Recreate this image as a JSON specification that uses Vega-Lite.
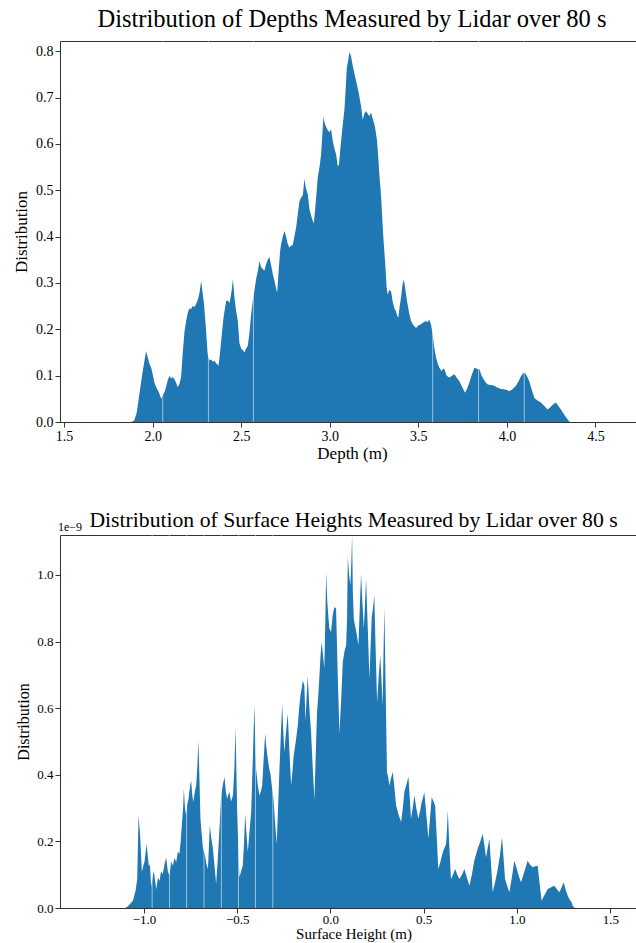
{
 "$schema": "https://vega.github.io/schema/vega-lite/v6.json",
 "padding": {"left": 12, "top": 6, "right": 0, "bottom": 0},
 "config": {
  "font": "Liberation Serif",
  "view": {"stroke": "#333", "strokeWidth": 1},
  "axis": {"grid": false, "domain": false, "tickColor": "#333", "tickSize": 5, "labelColor": "#000", "labelFont": "Liberation Serif", "titleFont": "Liberation Serif", "titleColor": "#000", "titleFontWeight": "normal", "labelPadding": 2},
  "title": {"font": "Liberation Serif", "fontWeight": "normal", "color": "#000", "anchor": "middle"},
  "text": {"font": "Liberation Serif"},
  "concat": {"spacing": 47}
 },
 "datasets": {
  "depth": [
   {"depth_m":1.880,"density":0},{"depth_m":1.896,"density":0.003},{"depth_m":1.91,"density":0.02},{"depth_m":1.925,"density":0.06},{"depth_m":1.94,"density":0.10},{"depth_m":1.955,"density":0.135},{"depth_m":1.963,"density":0.153},{"depth_m":1.972,"density":0.14},{"depth_m":1.982,"density":0.125},{"depth_m":1.992,"density":0.117},{"depth_m":2.002,"density":0.10},{"depth_m":2.010,"density":0.085},{"depth_m":2.02,"density":0.075},{"depth_m":2.035,"density":0.064},{"depth_m":2.048,"density":0.050},{"depth_m":2.06,"density":0.06},{"depth_m":2.068,"density":0.065},{"depth_m":2.076,"density":0.076},{"depth_m":2.085,"density":0.09},{"depth_m":2.095,"density":0.099},{"depth_m":2.105,"density":0.094},{"depth_m":2.113,"density":0.097},{"depth_m":2.123,"density":0.092},{"depth_m":2.133,"density":0.084},{"depth_m":2.142,"density":0.075},{"depth_m":2.152,"density":0.083},{"depth_m":2.161,"density":0.098},{"depth_m":2.170,"density":0.15},{"depth_m":2.180,"density":0.196},{"depth_m":2.190,"density":0.22},{"depth_m":2.199,"density":0.237},{"depth_m":2.208,"density":0.245},{"depth_m":2.217,"density":0.244},{"depth_m":2.226,"density":0.25},{"depth_m":2.236,"density":0.248},{"depth_m":2.246,"density":0.255},{"depth_m":2.256,"density":0.265},{"depth_m":2.265,"density":0.28},{"depth_m":2.274,"density":0.304},{"depth_m":2.28,"density":0.285},{"depth_m":2.29,"density":0.255},{"depth_m":2.302,"density":0.196},{"depth_m":2.310,"density":0.15},{"depth_m":2.315,"density":0.139},{"depth_m":2.322,"density":0.133},{"depth_m":2.330,"density":0.135},{"depth_m":2.340,"density":0.13},{"depth_m":2.350,"density":0.132},{"depth_m":2.358,"density":0.126},{"depth_m":2.365,"density":0.125},{"depth_m":2.371,"density":0.121},{"depth_m":2.378,"density":0.14},{"depth_m":2.387,"density":0.175},{"depth_m":2.40,"density":0.225},{"depth_m":2.415,"density":0.261},{"depth_m":2.425,"density":0.262},{"depth_m":2.434,"density":0.257},{"depth_m":2.445,"density":0.28},{"depth_m":2.453,"density":0.308},{"depth_m":2.462,"density":0.268},{"depth_m":2.471,"density":0.24},{"depth_m":2.481,"density":0.218},{"depth_m":2.490,"density":0.17},{"depth_m":2.50,"density":0.158},{"depth_m":2.51,"density":0.155},{"depth_m":2.518,"density":0.150},{"depth_m":2.527,"density":0.158},{"depth_m":2.537,"density":0.164},{"depth_m":2.546,"density":0.19},{"depth_m":2.556,"density":0.232},{"depth_m":2.565,"density":0.26},{"depth_m":2.575,"density":0.285},{"depth_m":2.585,"density":0.31},{"depth_m":2.594,"density":0.326},{"depth_m":2.603,"density":0.347},{"depth_m":2.612,"density":0.335},{"depth_m":2.621,"density":0.33},{"depth_m":2.631,"density":0.327},{"depth_m":2.64,"density":0.34},{"depth_m":2.65,"density":0.35},{"depth_m":2.659,"density":0.356},{"depth_m":2.668,"density":0.34},{"depth_m":2.678,"density":0.32},{"depth_m":2.688,"density":0.304},{"depth_m":2.696,"density":0.29},{"depth_m":2.703,"density":0.279},{"depth_m":2.712,"density":0.33},{"depth_m":2.72,"density":0.37},{"depth_m":2.725,"density":0.383},{"depth_m":2.735,"density":0.40},{"depth_m":2.744,"density":0.412},{"depth_m":2.753,"density":0.40},{"depth_m":2.762,"density":0.385},{"depth_m":2.772,"density":0.376},{"depth_m":2.781,"density":0.38},{"depth_m":2.791,"density":0.382},{"depth_m":2.80,"density":0.40},{"depth_m":2.81,"density":0.419},{"depth_m":2.82,"density":0.45},{"depth_m":2.829,"density":0.477},{"depth_m":2.838,"density":0.484},{"depth_m":2.848,"density":0.49},{"depth_m":2.857,"density":0.525},{"depth_m":2.865,"density":0.505},{"depth_m":2.876,"density":0.491},{"depth_m":2.885,"density":0.46},{"depth_m":2.895,"density":0.445},{"depth_m":2.903,"density":0.435},{"depth_m":2.910,"density":0.428},{"depth_m":2.92,"density":0.47},{"depth_m":2.932,"density":0.527},{"depth_m":2.942,"density":0.55},{"depth_m":2.951,"density":0.577},{"depth_m":2.958,"density":0.62},{"depth_m":2.964,"density":0.658},{"depth_m":2.971,"density":0.645},{"depth_m":2.979,"density":0.637},{"depth_m":2.988,"density":0.63},{"depth_m":2.998,"density":0.625},{"depth_m":3.007,"density":0.632},{"depth_m":3.017,"density":0.606},{"depth_m":3.026,"density":0.59},{"depth_m":3.036,"density":0.577},{"depth_m":3.045,"density":0.552},{"depth_m":3.052,"density":0.555},{"depth_m":3.060,"density":0.59},{"depth_m":3.064,"density":0.606},{"depth_m":3.073,"density":0.64},{"depth_m":3.083,"density":0.675},{"depth_m":3.090,"density":0.72},{"depth_m":3.096,"density":0.764},{"depth_m":3.104,"density":0.78},{"depth_m":3.111,"density":0.798},{"depth_m":3.120,"density":0.789},{"depth_m":3.130,"density":0.768},{"depth_m":3.140,"density":0.75},{"depth_m":3.149,"density":0.735},{"depth_m":3.158,"density":0.72},{"depth_m":3.167,"density":0.703},{"depth_m":3.177,"density":0.68},{"depth_m":3.186,"density":0.652},{"depth_m":3.195,"density":0.665},{"depth_m":3.205,"density":0.671},{"depth_m":3.214,"density":0.665},{"depth_m":3.224,"density":0.660},{"depth_m":3.233,"density":0.668},{"depth_m":3.243,"density":0.653},{"depth_m":3.250,"density":0.645},{"depth_m":3.256,"density":0.635},{"depth_m":3.262,"density":0.62},{"depth_m":3.267,"density":0.606},{"depth_m":3.274,"density":0.57},{"depth_m":3.280,"density":0.534},{"depth_m":3.285,"density":0.51},{"depth_m":3.290,"density":0.484},{"depth_m":3.295,"density":0.45},{"depth_m":3.299,"density":0.42},{"depth_m":3.304,"density":0.39},{"depth_m":3.308,"density":0.369},{"depth_m":3.315,"density":0.33},{"depth_m":3.321,"density":0.29},{"depth_m":3.327,"density":0.275},{"depth_m":3.336,"density":0.285},{"depth_m":3.346,"density":0.282},{"depth_m":3.355,"density":0.26},{"depth_m":3.365,"density":0.245},{"depth_m":3.374,"density":0.239},{"depth_m":3.380,"density":0.23},{"depth_m":3.387,"density":0.225},{"depth_m":3.395,"density":0.25},{"depth_m":3.402,"density":0.268},{"depth_m":3.410,"density":0.295},{"depth_m":3.418,"density":0.308},{"depth_m":3.427,"density":0.285},{"depth_m":3.436,"density":0.261},{"depth_m":3.448,"density":0.235},{"depth_m":3.459,"density":0.218},{"depth_m":3.470,"density":0.21},{"depth_m":3.487,"density":0.203},{"depth_m":3.50,"density":0.208},{"depth_m":3.515,"density":0.211},{"depth_m":3.53,"density":0.215},{"depth_m":3.544,"density":0.218},{"depth_m":3.552,"density":0.215},{"depth_m":3.562,"density":0.221},{"depth_m":3.572,"density":0.21},{"depth_m":3.581,"density":0.189},{"depth_m":3.590,"density":0.16},{"depth_m":3.600,"density":0.139},{"depth_m":3.610,"density":0.125},{"depth_m":3.619,"density":0.117},{"depth_m":3.630,"density":0.11},{"depth_m":3.640,"density":0.115},{"depth_m":3.647,"density":0.114},{"depth_m":3.660,"density":0.10},{"depth_m":3.675,"density":0.096},{"depth_m":3.690,"density":0.10},{"depth_m":3.704,"density":0.103},{"depth_m":3.718,"density":0.095},{"depth_m":3.732,"density":0.088},{"depth_m":3.748,"density":0.075},{"depth_m":3.764,"density":0.063},{"depth_m":3.775,"density":0.072},{"depth_m":3.788,"density":0.085},{"depth_m":3.80,"density":0.10},{"depth_m":3.816,"density":0.117},{"depth_m":3.830,"density":0.115},{"depth_m":3.845,"density":0.114},{"depth_m":3.857,"density":0.10},{"depth_m":3.869,"density":0.092},{"depth_m":3.880,"density":0.085},{"depth_m":3.892,"density":0.081},{"depth_m":3.91,"density":0.08},{"depth_m":3.929,"density":0.078},{"depth_m":3.948,"density":0.074},{"depth_m":3.967,"density":0.071},{"depth_m":3.99,"density":0.07},{"depth_m":4.014,"density":0.067},{"depth_m":4.03,"density":0.07},{"depth_m":4.051,"density":0.078},{"depth_m":4.066,"density":0.088},{"depth_m":4.080,"density":0.099},{"depth_m":4.092,"density":0.105},{"depth_m":4.102,"density":0.106},{"depth_m":4.114,"density":0.098},{"depth_m":4.126,"density":0.088},{"depth_m":4.140,"density":0.07},{"depth_m":4.155,"density":0.052},{"depth_m":4.175,"density":0.046},{"depth_m":4.192,"density":0.042},{"depth_m":4.21,"density":0.035},{"depth_m":4.230,"density":0.027},{"depth_m":4.245,"density":0.032},{"depth_m":4.260,"density":0.038},{"depth_m":4.277,"density":0.042},{"depth_m":4.29,"density":0.035},{"depth_m":4.305,"density":0.027},{"depth_m":4.325,"density":0.015},{"depth_m":4.342,"density":0.006},{"depth_m":4.355,"density":0}
  ],
  "depthGaps": [{"depth_m":2.057},{"depth_m":2.315},{"depth_m":2.569},{"depth_m":3.581},{"depth_m":3.840},{"depth_m":4.098}],
  "surface": [
   {"height_m":-1.10,"density_e9":0},{"height_m":-1.086,"density_e9":0.005},{"height_m":-1.07,"density_e9":0.015},{"height_m":-1.059,"density_e9":0.022},{"height_m":-1.045,"density_e9":0.052},{"height_m":-1.036,"density_e9":0.087},{"height_m":-1.029,"density_e9":0.278},{"height_m":-1.020,"density_e9":0.213},{"height_m":-1.011,"density_e9":0.108},{"height_m":-1.004,"density_e9":0.125},{"height_m":-0.997,"density_e9":0.138},{"height_m":-0.986,"density_e9":0.192},{"height_m":-0.974,"density_e9":0.127},{"height_m":-0.968,"density_e9":0.13},{"height_m":-0.961,"density_e9":0.062},{"height_m":-0.954,"density_e9":0.09},{"height_m":-0.947,"density_e9":0.112},{"height_m":-0.940,"density_e9":0.08},{"height_m":-0.934,"density_e9":0.057},{"height_m":-0.925,"density_e9":0.09},{"height_m":-0.916,"density_e9":0.082},{"height_m":-0.908,"density_e9":0.11},{"height_m":-0.899,"density_e9":0.102},{"height_m":-0.89,"density_e9":0.13},{"height_m":-0.881,"density_e9":0.152},{"height_m":-0.872,"density_e9":0.11},{"height_m":-0.863,"density_e9":0.097},{"height_m":-0.854,"density_e9":0.14},{"height_m":-0.845,"density_e9":0.127},{"height_m":-0.836,"density_e9":0.15},{"height_m":-0.827,"density_e9":0.138},{"height_m":-0.818,"density_e9":0.17},{"height_m":-0.810,"density_e9":0.162},{"height_m":-0.803,"density_e9":0.20},{"height_m":-0.797,"density_e9":0.248},{"height_m":-0.790,"density_e9":0.30},{"height_m":-0.786,"density_e9":0.358},{"height_m":-0.780,"density_e9":0.30},{"height_m":-0.774,"density_e9":0.278},{"height_m":-0.768,"density_e9":0.31},{"height_m":-0.761,"density_e9":0.328},{"height_m":-0.754,"density_e9":0.36},{"height_m":-0.747,"density_e9":0.383},{"height_m":-0.741,"density_e9":0.34},{"height_m":-0.735,"density_e9":0.318},{"height_m":-0.727,"density_e9":0.35},{"height_m":-0.720,"density_e9":0.368},{"height_m":-0.714,"density_e9":0.42},{"height_m":-0.708,"density_e9":0.503},{"height_m":-0.702,"density_e9":0.38},{"height_m":-0.697,"density_e9":0.268},{"height_m":-0.690,"density_e9":0.22},{"height_m":-0.684,"density_e9":0.182},{"height_m":-0.678,"density_e9":0.17},{"height_m":-0.672,"density_e9":0.157},{"height_m":-0.664,"density_e9":0.13},{"height_m":-0.657,"density_e9":0.117},{"height_m":-0.652,"density_e9":0.18},{"height_m":-0.647,"density_e9":0.248},{"height_m":-0.639,"density_e9":0.21},{"height_m":-0.631,"density_e9":0.182},{"height_m":-0.622,"density_e9":0.13},{"height_m":-0.613,"density_e9":0.072},{"height_m":-0.606,"density_e9":0.13},{"height_m":-0.600,"density_e9":0.187},{"height_m":-0.593,"density_e9":0.26},{"height_m":-0.586,"density_e9":0.338},{"height_m":-0.577,"density_e9":0.37},{"height_m":-0.568,"density_e9":0.393},{"height_m":-0.561,"density_e9":0.35},{"height_m":-0.554,"density_e9":0.328},{"height_m":-0.548,"density_e9":0.34},{"height_m":-0.542,"density_e9":0.348},{"height_m":-0.533,"density_e9":0.32},{"height_m":-0.523,"density_e9":0.338},{"height_m":-0.515,"density_e9":0.42},{"height_m":-0.509,"density_e9":0.543},{"height_m":-0.504,"density_e9":0.40},{"height_m":-0.500,"density_e9":0.288},{"height_m":-0.494,"density_e9":0.18},{"height_m":-0.488,"density_e9":0.092},{"height_m":-0.479,"density_e9":0.11},{"height_m":-0.470,"density_e9":0.127},{"height_m":-0.463,"density_e9":0.2},{"height_m":-0.457,"density_e9":0.283},{"height_m":-0.450,"density_e9":0.22},{"height_m":-0.443,"density_e9":0.168},{"height_m":-0.434,"density_e9":0.23},{"height_m":-0.425,"density_e9":0.288},{"height_m":-0.416,"density_e9":0.45},{"height_m":-0.408,"density_e9":0.608},{"height_m":-0.403,"density_e9":0.50},{"height_m":-0.399,"density_e9":0.418},{"height_m":-0.390,"density_e9":0.37},{"height_m":-0.381,"density_e9":0.338},{"height_m":-0.373,"density_e9":0.35},{"height_m":-0.366,"density_e9":0.368},{"height_m":-0.358,"density_e9":0.45},{"height_m":-0.350,"density_e9":0.523},{"height_m":-0.343,"density_e9":0.48},{"height_m":-0.336,"density_e9":0.448},{"height_m":-0.329,"density_e9":0.42},{"height_m":-0.322,"density_e9":0.403},{"height_m":-0.313,"density_e9":0.36},{"height_m":-0.304,"density_e9":0.318},{"height_m":-0.296,"density_e9":0.25},{"height_m":-0.288,"density_e9":0.192},{"height_m":-0.281,"density_e9":0.30},{"height_m":-0.274,"density_e9":0.408},{"height_m":-0.266,"density_e9":0.52},{"height_m":-0.259,"density_e9":0.613},{"height_m":-0.253,"density_e9":0.53},{"height_m":-0.247,"density_e9":0.468},{"height_m":-0.238,"density_e9":0.53},{"height_m":-0.229,"density_e9":0.583},{"height_m":-0.220,"density_e9":0.47},{"height_m":-0.211,"density_e9":0.368},{"height_m":-0.204,"density_e9":0.41},{"height_m":-0.197,"density_e9":0.458},{"height_m":-0.186,"density_e9":0.50},{"height_m":-0.175,"density_e9":0.548},{"height_m":-0.168,"density_e9":0.60},{"height_m":-0.161,"density_e9":0.638},{"height_m":-0.154,"density_e9":0.66},{"height_m":-0.148,"density_e9":0.683},{"height_m":-0.140,"density_e9":0.668},{"height_m":-0.134,"density_e9":0.563},{"height_m":-0.128,"density_e9":0.63},{"height_m":-0.122,"density_e9":0.698},{"height_m":-0.113,"density_e9":0.6},{"height_m":-0.104,"density_e9":0.528},{"height_m":-0.095,"density_e9":0.42},{"height_m":-0.086,"density_e9":0.325},{"height_m":-0.079,"density_e9":0.46},{"height_m":-0.072,"density_e9":0.588},{"height_m":-0.065,"density_e9":0.64},{"height_m":-0.059,"density_e9":0.698},{"height_m":-0.053,"density_e9":0.76},{"height_m":-0.047,"density_e9":0.799},{"height_m":-0.040,"density_e9":0.76},{"height_m":-0.033,"density_e9":0.719},{"height_m":-0.028,"density_e9":0.85},{"height_m":-0.023,"density_e9":1.009},{"height_m":-0.018,"density_e9":0.93},{"height_m":-0.012,"density_e9":0.88},{"height_m":-0.006,"density_e9":0.839},{"height_m":0.003,"density_e9":0.829},{"height_m":0.012,"density_e9":0.879},{"height_m":0.021,"density_e9":0.904},{"height_m":0.030,"density_e9":0.899},{"height_m":0.039,"density_e9":0.70},{"height_m":0.048,"density_e9":0.525},{"height_m":0.057,"density_e9":0.62},{"height_m":0.066,"density_e9":0.738},{"height_m":0.075,"density_e9":0.77},{"height_m":0.084,"density_e9":0.789},{"height_m":0.089,"density_e9":0.87},{"height_m":0.093,"density_e9":1.054},{"height_m":0.100,"density_e9":1.0},{"height_m":0.107,"density_e9":0.969},{"height_m":0.112,"density_e9":1.04},{"height_m":0.116,"density_e9":1.12},{"height_m":0.120,"density_e9":0.95},{"height_m":0.125,"density_e9":0.869},{"height_m":0.131,"density_e9":0.85},{"height_m":0.137,"density_e9":0.834},{"height_m":0.144,"density_e9":0.81},{"height_m":0.150,"density_e9":0.789},{"height_m":0.157,"density_e9":0.90},{"height_m":0.164,"density_e9":1.004},{"height_m":0.171,"density_e9":0.92},{"height_m":0.179,"density_e9":0.839},{"height_m":0.185,"density_e9":0.91},{"height_m":0.191,"density_e9":0.989},{"height_m":0.200,"density_e9":0.84},{"height_m":0.209,"density_e9":0.689},{"height_m":0.215,"density_e9":0.78},{"height_m":0.221,"density_e9":0.869},{"height_m":0.228,"density_e9":0.90},{"height_m":0.235,"density_e9":0.939},{"height_m":0.242,"density_e9":0.78},{"height_m":0.250,"density_e9":0.618},{"height_m":0.258,"density_e9":0.69},{"height_m":0.267,"density_e9":0.759},{"height_m":0.274,"density_e9":0.68},{"height_m":0.280,"density_e9":0.608},{"height_m":0.284,"density_e9":0.75},{"height_m":0.289,"density_e9":0.904},{"height_m":0.296,"density_e9":0.65},{"height_m":0.303,"density_e9":0.408},{"height_m":0.310,"density_e9":0.39},{"height_m":0.316,"density_e9":0.368},{"height_m":0.325,"density_e9":0.39},{"height_m":0.334,"density_e9":0.408},{"height_m":0.343,"density_e9":0.36},{"height_m":0.352,"density_e9":0.308},{"height_m":0.365,"density_e9":0.28},{"height_m":0.379,"density_e9":0.258},{"height_m":0.388,"density_e9":0.30},{"height_m":0.396,"density_e9":0.348},{"height_m":0.407,"density_e9":0.37},{"height_m":0.418,"density_e9":0.393},{"height_m":0.425,"density_e9":0.33},{"height_m":0.432,"density_e9":0.268},{"height_m":0.441,"density_e9":0.30},{"height_m":0.450,"density_e9":0.338},{"height_m":0.460,"density_e9":0.30},{"height_m":0.471,"density_e9":0.268},{"height_m":0.480,"density_e9":0.29},{"height_m":0.489,"density_e9":0.318},{"height_m":0.496,"density_e9":0.33},{"height_m":0.503,"density_e9":0.348},{"height_m":0.514,"density_e9":0.28},{"height_m":0.525,"density_e9":0.208},{"height_m":0.534,"density_e9":0.27},{"height_m":0.543,"density_e9":0.333},{"height_m":0.552,"density_e9":0.32},{"height_m":0.561,"density_e9":0.308},{"height_m":0.570,"density_e9":0.21},{"height_m":0.578,"density_e9":0.117},{"height_m":0.590,"density_e9":0.14},{"height_m":0.602,"density_e9":0.167},{"height_m":0.611,"density_e9":0.18},{"height_m":0.620,"density_e9":0.192},{"height_m":0.625,"density_e9":0.24},{"height_m":0.629,"density_e9":0.293},{"height_m":0.637,"density_e9":0.19},{"height_m":0.646,"density_e9":0.087},{"height_m":0.657,"density_e9":0.10},{"height_m":0.668,"density_e9":0.117},{"height_m":0.680,"density_e9":0.10},{"height_m":0.691,"density_e9":0.087},{"height_m":0.705,"density_e9":0.10},{"height_m":0.718,"density_e9":0.117},{"height_m":0.732,"density_e9":0.09},{"height_m":0.745,"density_e9":0.067},{"height_m":0.758,"density_e9":0.10},{"height_m":0.771,"density_e9":0.142},{"height_m":0.780,"density_e9":0.16},{"height_m":0.789,"density_e9":0.177},{"height_m":0.803,"density_e9":0.20},{"height_m":0.816,"density_e9":0.222},{"height_m":0.825,"density_e9":0.19},{"height_m":0.834,"density_e9":0.152},{"height_m":0.843,"density_e9":0.18},{"height_m":0.852,"density_e9":0.208},{"height_m":0.861,"density_e9":0.13},{"height_m":0.870,"density_e9":0.047},{"height_m":0.884,"density_e9":0.08},{"height_m":0.897,"density_e9":0.117},{"height_m":0.909,"density_e9":0.16},{"height_m":0.920,"density_e9":0.212},{"height_m":0.928,"density_e9":0.15},{"height_m":0.936,"density_e9":0.087},{"height_m":0.948,"density_e9":0.065},{"height_m":0.959,"density_e9":0.047},{"height_m":0.972,"density_e9":0.09},{"height_m":0.986,"density_e9":0.142},{"height_m":0.995,"density_e9":0.125},{"height_m":1.004,"density_e9":0.107},{"height_m":1.013,"density_e9":0.09},{"height_m":1.022,"density_e9":0.077},{"height_m":1.04,"density_e9":0.11},{"height_m":1.057,"density_e9":0.142},{"height_m":1.070,"density_e9":0.13},{"height_m":1.084,"density_e9":0.122},{"height_m":1.098,"density_e9":0.125},{"height_m":1.111,"density_e9":0.127},{"height_m":1.122,"density_e9":0.07},{"height_m":1.132,"density_e9":0.022},{"height_m":1.148,"density_e9":0.04},{"height_m":1.165,"density_e9":0.057},{"height_m":1.183,"density_e9":0.062},{"height_m":1.200,"density_e9":0.067},{"height_m":1.213,"density_e9":0.057},{"height_m":1.227,"density_e9":0.047},{"height_m":1.238,"density_e9":0.06},{"height_m":1.250,"density_e9":0.077},{"height_m":1.261,"density_e9":0.055},{"height_m":1.272,"density_e9":0.037},{"height_m":1.283,"density_e9":0.025},{"height_m":1.293,"density_e9":0.017},{"height_m":1.30,"density_e9":0.005},{"height_m":1.31,"density_e9":0}
  ],
  "surfaceGaps": [{"height_m":-0.956},{"height_m":-0.863},{"height_m":-0.771},{"height_m":-0.678},{"height_m":-0.585},{"height_m":-0.493},{"height_m":-0.402},{"height_m":-0.309}],
  "exponent": [{"height_m": -1.45, "density_e9": 1.12, "label": "1e\u22129"}]
 },
 "vconcat": [
  {
   "width": 584,
   "height": 381,
   "title": {"text": "Distribution of Depths Measured by Lidar over 80 s", "fontSize": 24.5, "offset": 8},
   "layer": [
    {
     "data": {"name": "depth"},
     "mark": {"type": "area", "color": "#1f77b4", "clip": true},
     "encoding": {
      "x": {"field": "depth_m", "type": "quantitative", "scale": {"domain": [1.477, 4.774], "nice": false, "zero": false},
        "axis": {"values": [1.5, 2.0, 2.5, 3.0, 3.5, 4.0, 4.5], "format": ".1f", "title": "Depth (m)", "titleFontSize": 17, "labelFontSize": 14, "titlePadding": 2}},
      "y": {"field": "density", "type": "quantitative", "scale": {"domain": [0, 0.822], "nice": false},
        "axis": {"values": [0, 0.1, 0.2, 0.3, 0.4, 0.5, 0.6, 0.7, 0.8], "format": ".1f", "title": "Distribution", "titleFontSize": 17, "labelFontSize": 14, "titlePadding": 5}}
     }
    },
    {
     "data": {"name": "depthGaps"},
     "mark": {"type": "rule", "color": "#ffffff", "opacity": 0.55, "strokeWidth": 1},
     "encoding": {"x": {"field": "depth_m", "type": "quantitative"}}
    }
   ]
  },
  {
   "width": 587,
   "height": 373,
   "title": {"text": "Distribution of Surface Heights Measured by Lidar over 80 s", "fontSize": 21.7, "offset": -11},
   "layer": [
    {
     "data": {"name": "surface"},
     "mark": {"type": "area", "color": "#1f77b4", "clip": true},
     "encoding": {
      "x": {"field": "height_m", "type": "quantitative", "scale": {"domain": [-1.45, 1.697], "nice": false, "zero": false},
        "axis": {"values": [-1.0, -0.5, 0.0, 0.5, 1.0, 1.5], "format": ".1f", "title": "Surface Height (m)", "titleFontSize": 15, "labelFontSize": 13, "titlePadding": 0, "labelPadding": 0}},
      "y": {"field": "density_e9", "type": "quantitative", "scale": {"domain": [0, 1.12], "nice": false},
        "axis": {"values": [0, 0.2, 0.4, 0.6, 0.8, 1.0], "format": ".1f", "title": "Distribution", "titleFontSize": 16, "labelFontSize": 13, "titlePadding": 5}}
     }
    },
    {
     "data": {"name": "surfaceGaps"},
     "mark": {"type": "rule", "color": "#ffffff", "opacity": 0.55, "strokeWidth": 1},
     "encoding": {"x": {"field": "height_m", "type": "quantitative"}}
    },
    {
     "data": {"name": "exponent"},
     "mark": {"type": "text", "align": "left", "baseline": "bottom", "font": "Liberation Serif", "fontSize": 12, "dx": -2, "dy": -1, "color": "#000"},
     "encoding": {
      "x": {"field": "height_m", "type": "quantitative"},
      "y": {"field": "density_e9", "type": "quantitative"},
      "text": {"field": "label", "type": "nominal"}
     }
    }
   ]
  }
 ]
}
